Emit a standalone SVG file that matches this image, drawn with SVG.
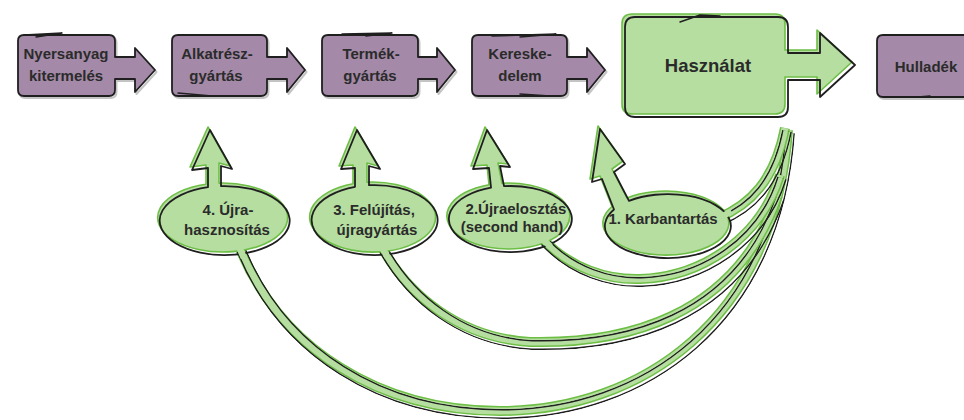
<svg xmlns="http://www.w3.org/2000/svg" width="964" height="420" viewBox="0 0 964 420">
<style>
.pbox{fill:#a48aa8;stroke:#1f1f1f;stroke-width:1.8;stroke-linejoin:round}
.pshadow{fill:none;stroke:#c4c4c4;stroke-width:2;stroke-linejoin:round}
.gfill{fill:#b5dea0;stroke:#6dbe45;stroke-width:1.6;stroke-linejoin:round}
.gline{fill:none;stroke:#1f1f1f;stroke-width:1.8;stroke-linejoin:round}
.rout{fill:none;stroke:#6dbe45;stroke-width:10}
.rin{fill:none;stroke:#b5dea0;stroke-width:7}
.rblk{fill:none;stroke:#1f1f1f;stroke-width:10}
.patch{fill:none;stroke:#b5dea0;stroke-width:6.5;stroke-dasharray:15 3000}
.sq{fill:none;stroke:#1f1f1f;stroke-width:1.4;stroke-linecap:round;stroke-linejoin:round}
.t{font-family:"Liberation Sans",Arial,sans-serif;font-weight:700;fill:#2b2b2b;text-anchor:middle;font-size:15px}
</style>
<defs>
<path id="c1" d="M718,218 C750,205 775,180 785,128"/>
<path id="c2" d="M540,236 C570,270 610,280 640,279 C700,277 760,240 780,175"/>
<path id="c3" d="M380,244 C408,296 460,338 530,342 C620,344 735,320 778,195"/>
<path id="c4" d="M238,244 C280,350 380,411 500,411 C640,411 775,320 788,130"/>
<path id="e4" d="M219,183.1 A65 34.5 0 1 1 206,184.2 L206,165 L190,167 L208,127 L230,166 L219,163 Z"/>
<path id="e3" d="M367,182.2 A63 35 0 1 1 353,183.8 L353,165 L339,166 L355,127 L378,166 L367,163 Z"/>
<path id="e2" d="M502,183.2 A61.5 33 0 1 1 489,184.7 L487,165 L471,166 L485,127 L508,164 L498,163 Z"/>
<path id="e1" d="M627,197.9 A63 32 0 1 1 612,206.5 L600,176 L590,179 L598,126 L623,161 L612,169 Z"/>
<path id="hz" d="M632,14 H775 Q785,14 785,24 V50 H817 V30 L852,62 L817,94 V77 H785 V104 Q785,114 775,114 H632 Q622,114 622,104 V24 Q622,14 632,14 Z"/>
<path id="b1" d="M24,35 H109 Q115,35 115,41 V57 H135 V48 L155,70 L135,92 V79 H115 V90 Q115,96 109,96 H24 Q18,96 18,90 V41 Q18,35 24,35 Z"/>
<path id="b2" d="M178,35 H261 Q267,35 267,41 V57 H287 V48 L305,70 L287,92 V79 H267 V90 Q267,96 261,96 H178 Q172,96 172,90 V41 Q172,35 178,35 Z"/>
<path id="b3" d="M328,35 H412 Q418,35 418,41 V57 H437 V48 L455,70 L437,92 V79 H418 V90 Q418,96 412,96 H328 Q322,96 322,90 V41 Q322,35 328,35 Z"/>
<path id="b4" d="M478,35 H561 Q567,35 567,41 V57 H587 V48 L605,70 L587,92 V79 H567 V90 Q567,96 561,96 H478 Q472,96 472,90 V41 Q472,35 478,35 Z"/>
<path id="b5" d="M883,35 H975 V97 H883 Q877,97 877,91 V41 Q877,35 883,35 Z"/>
<mask id="m1" maskUnits="userSpaceOnUse" x="-20" y="-20" width="1010" height="460"><use href="#c1" fill="none" stroke="#fff" stroke-width="10"/><use href="#c1" fill="none" stroke="#000" stroke-width="7"/></mask>
<mask id="m2" maskUnits="userSpaceOnUse" x="-20" y="-20" width="1010" height="460"><use href="#c2" fill="none" stroke="#fff" stroke-width="10"/><use href="#c2" fill="none" stroke="#000" stroke-width="7"/></mask>
<mask id="m3" maskUnits="userSpaceOnUse" x="-20" y="-20" width="1010" height="460"><use href="#c3" fill="none" stroke="#fff" stroke-width="10"/><use href="#c3" fill="none" stroke="#000" stroke-width="7"/></mask>
<mask id="m4" maskUnits="userSpaceOnUse" x="-20" y="-20" width="1010" height="460"><use href="#c4" fill="none" stroke="#fff" stroke-width="10"/><use href="#c4" fill="none" stroke="#000" stroke-width="7"/></mask>
</defs>
<rect width="964" height="420" fill="#fff"/>

<g id="connectors">
  <g id="conn-4"><use href="#c4" class="rout"/><use href="#c4" class="rin"/><g transform="translate(2,3)"><use href="#c4" class="rblk" mask="url(#m4)"/></g></g>
  <g id="conn-3"><use href="#c3" class="rout"/><use href="#c3" class="rin"/><g transform="translate(2,3)"><use href="#c3" class="rblk" mask="url(#m3)"/></g></g>
  <g id="conn-2"><use href="#c2" class="rout"/><use href="#c2" class="rin"/><g transform="translate(2,3)"><use href="#c2" class="rblk" mask="url(#m2)"/></g></g>
  <g id="conn-1"><use href="#c1" class="rout"/><use href="#c1" class="rin"/><g transform="translate(2,3)"><use href="#c1" class="rblk" mask="url(#m1)"/></g></g>
</g>

<g id="nyersanyag">
  <use href="#b1" class="pshadow" transform="translate(1.5,2)"/>
  <use href="#b1" class="pbox"/>
  <path class="sq" d="M24,35 L62,33 L36,37"/>
  <text class="t" x="66" y="59">Nyersanyag</text>
  <text class="t" x="66" y="81">kitermelés</text>
</g>
<g id="alkatresz">
  <use href="#b2" class="pshadow" transform="translate(1.5,2)"/>
  <use href="#b2" class="pbox"/>
  <path class="sq" d="M178,93 L212,96 L190,96"/>
  <text class="t" x="217" y="59">Alkatrész-</text>
  <text class="t" x="216" y="81">gyártás</text>
</g>
<g id="termek">
  <use href="#b3" class="pshadow" transform="translate(1.5,2)"/>
  <use href="#b3" class="pbox"/>
  <path class="sq" d="M342,34 L392,33 L366,36"/>
  <text class="t" x="371" y="59">Termék-</text>
  <text class="t" x="370" y="81">gyártás</text>
</g>
<g id="kereskedelem">
  <use href="#b4" class="pshadow" transform="translate(1.5,2)"/>
  <use href="#b4" class="pbox"/>
  <path class="sq" d="M492,36 L556,34 L520,37"/>
  <path class="sq" d="M520,94 L550,96"/>
  <text class="t" x="520" y="59">Kereske-</text>
  <text class="t" x="520" y="81">delem</text>
</g>
<g id="hasznalat">
  <use href="#hz" class="gfill"/>
  <use href="#hz" class="gline" transform="translate(3,3)"/>
  <path class="sq" d="M680,22 L700,15 L720,16"/>
  <text class="t" x="708" y="72" style="font-size:18.5px">Használat</text>
</g>
<g id="hulladek">
  <use href="#b5" class="pshadow" transform="translate(1.5,2)"/>
  <use href="#b5" class="pbox"/>
  <path class="sq" d="M918,97 L930,96"/>
  <text class="t" x="926" y="72">Hulladék</text>
</g>

<g id="ujrahasznositas">
  <use href="#e4" class="gfill"/>
  <use href="#e4" class="gline" transform="translate(2,3)"/>
  <text class="t" x="228" y="215">4. Újra-</text>
  <text class="t" x="227" y="235">hasznosítás</text>
</g>
<g id="felujitas">
  <use href="#e3" class="gfill"/>
  <use href="#e3" class="gline" transform="translate(2,3)"/>
  <text class="t" x="374" y="215">3. Felújítás,</text>
  <text class="t" x="377" y="235">újragyártás</text>
</g>
<g id="ujraelosztas">
  <use href="#e2" class="gfill"/>
  <use href="#e2" class="gline" transform="translate(2,3)"/>
  <text class="t" x="516" y="214">2.Újraelosztás</text>
  <text class="t" x="512" y="232">(second hand)</text>
</g>
<g id="karbantartas">
  <use href="#e1" class="gfill"/>
  <use href="#e1" class="gline" transform="translate(2,3)"/>
  <text class="t" x="663" y="224">1. Karbantartás</text>
</g>

<g id="junctions">
  <use href="#c4" class="patch"/>
  <use href="#c3" class="patch"/>
  <use href="#c2" class="patch"/>
  <use href="#c1" class="patch"/>
</g>
</svg>
